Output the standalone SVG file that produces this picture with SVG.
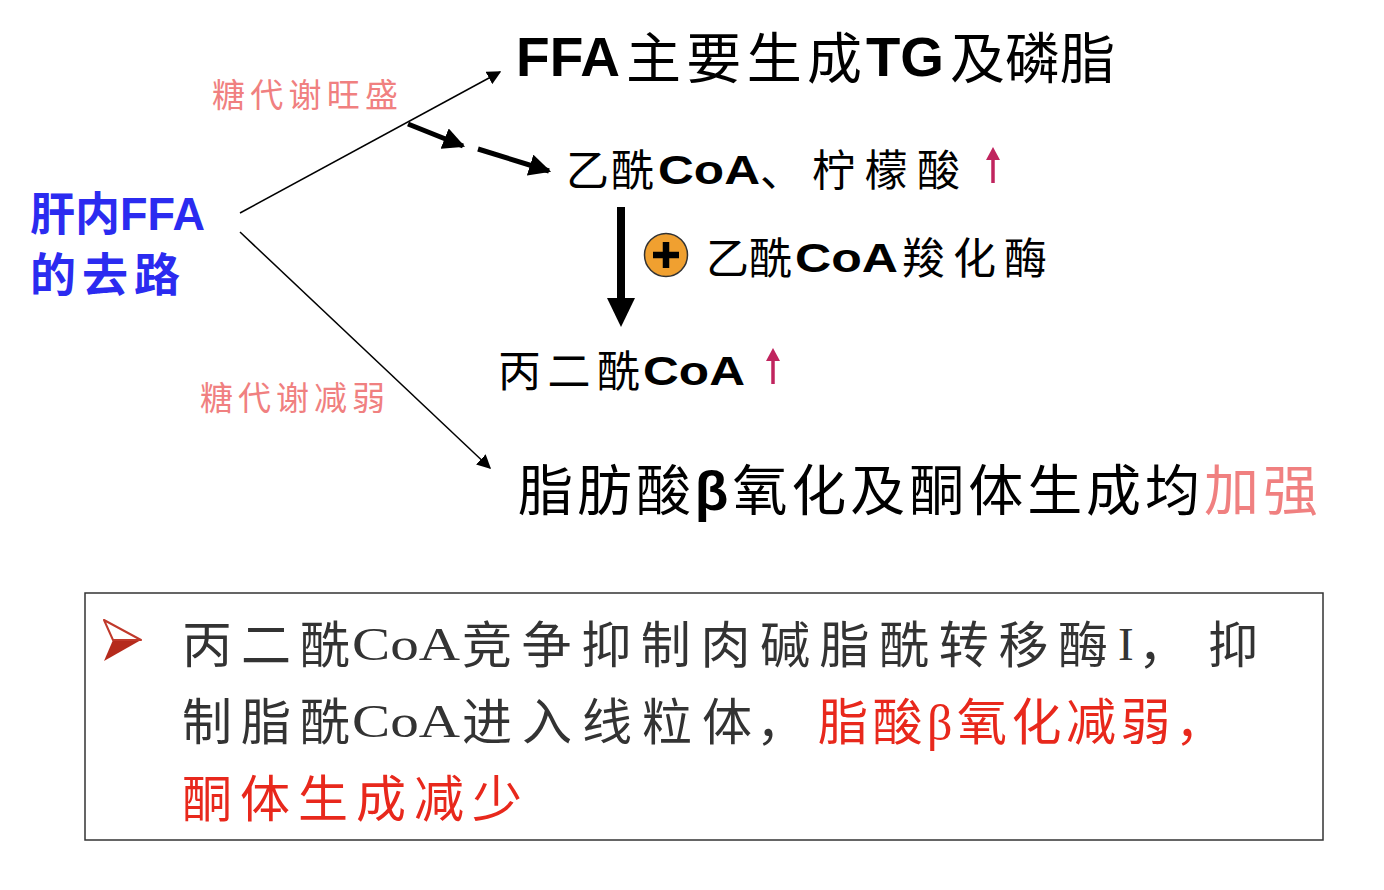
<svg xmlns="http://www.w3.org/2000/svg" width="1384" height="890" viewBox="0 0 1384 890">
  <defs>
    <marker id="thin" viewBox="0 0 10 10" refX="9" refY="5" markerWidth="14" markerHeight="14" markerUnits="userSpaceOnUse" orient="auto">
      <path d="M0,0 L10,5 L0,10 z" fill="#000"/>
    </marker>
    <marker id="bold" viewBox="0 0 10 10" refX="9" refY="5" markerWidth="4.4" markerHeight="4.4" orient="auto">
      <path d="M0,0 L10,5 L0,10 z" fill="#000"/>
    </marker>
    <style>
      .cn { font-family: "Liberation Sans", "Noto Sans CJK SC", sans-serif; }
      .b { font-weight: bold; }
      .se { font-family: "Liberation Serif", "Noto Sans CJK SC", serif; }
      .pink { fill: #f08080; }
      .up { stroke: #c0245e; stroke-width: 3.5; fill: none; }
      .upHead { fill: #c0245e; }
      .note { fill: #333; }
      .hot { fill: #e8281c; }
    </style>
  </defs>
  <rect width="1384" height="890" fill="#fff"/>

  <!-- connectors -->
  <g id="connectors" fill="none" stroke="#000">
    <line x1="240" y1="213" x2="500" y2="72" stroke-width="1.5" marker-end="url(#thin)"/>
    <line x1="240" y1="232" x2="490" y2="468" stroke-width="1.5" marker-end="url(#thin)"/>
    <line x1="408" y1="124" x2="463" y2="146" stroke-width="5" marker-end="url(#bold)"/>
    <line x1="478" y1="149" x2="549" y2="171" stroke-width="5" marker-end="url(#bold)"/>
    <line x1="621" y1="207" x2="621" y2="300" stroke-width="8"/>
    <path d="M607,298 L635,298 L621,327 z" fill="#000" stroke="none"/>
  </g>

  <g id="source">
    <text class="cn b" x="30" y="230" font-size="46" fill="#2b2bf0" textLength="175" lengthAdjust="spacingAndGlyphs">肝内FFA</text>
    <text class="cn b" x="30" y="291" font-size="46" fill="#2b2bf0" textLength="150" lengthAdjust="spacing">的去路</text>
  </g>

  <g id="label-high">
    <text class="cn pink" x="212" y="107" font-size="33" textLength="186" lengthAdjust="spacing">糖代谢旺盛</text>
  </g>
  <g id="label-low">
    <text class="cn pink" x="200" y="410" font-size="33" textLength="185" lengthAdjust="spacing">糖代谢减弱</text>
  </g>

  <g id="node-tg" fill="#000">
    <text class="cn b" x="516" y="76" font-size="55" textLength="104" lengthAdjust="spacingAndGlyphs">FFA</text>
    <text class="cn" x="626" y="78" font-size="55" textLength="236" lengthAdjust="spacing">主要生成</text>
    <text class="cn b" x="866" y="76" font-size="55" textLength="78" lengthAdjust="spacingAndGlyphs">TG</text>
    <text class="cn" x="950" y="78" font-size="55" textLength="165" lengthAdjust="spacing">及磷脂</text>
  </g>

  <g id="node-acetyl" fill="#000">
    <text class="cn" x="566" y="186" font-size="43" textLength="88" lengthAdjust="spacing">乙酰</text>
    <text class="cn b" x="658" y="184" font-size="40" textLength="102" lengthAdjust="spacingAndGlyphs">CoA</text>
    <text class="cn" x="760" y="186" font-size="43">、</text>
    <text class="cn" x="812" y="186" font-size="43" textLength="148" lengthAdjust="spacing">柠檬酸</text>
    <line class="up" x1="993" y1="183" x2="993" y2="157"/>
    <path class="upHead" d="M986,160 L993,147 L1000,160 z"/>
  </g>

  <g id="node-enzyme" fill="#000">
    <circle cx="666" cy="255" r="21.5" fill="#f0a030" stroke="#333" stroke-width="1.5"/>
    <path d="M653,255 H679 M666,242 V268" stroke="#000" stroke-width="6.5"/>
    <text class="cn" x="706" y="274" font-size="43" textLength="86" lengthAdjust="spacing">乙酰</text>
    <text class="cn b" x="795" y="272" font-size="40" textLength="103" lengthAdjust="spacingAndGlyphs">CoA</text>
    <text class="cn" x="902" y="274" font-size="43" textLength="145" lengthAdjust="spacing">羧化酶</text>
  </g>

  <g id="node-malonyl" fill="#000">
    <text class="cn" x="498" y="387" font-size="43" textLength="142" lengthAdjust="spacing">丙二酰</text>
    <text class="cn b" x="643" y="385" font-size="40" textLength="102" lengthAdjust="spacingAndGlyphs">CoA</text>
    <line class="up" x1="773" y1="384" x2="773" y2="358"/>
    <path class="upHead" d="M766,361 L773,348 L780,361 z"/>
  </g>

  <g id="node-oxidation" fill="#000">
    <text class="cn" x="518" y="510" font-size="55" textLength="800" lengthAdjust="spacing">脂肪酸<tspan class="b">β</tspan>氧化及酮体生成均<tspan class="pink">加强</tspan></text>
  </g>

  <g id="note">
    <rect x="85" y="593" width="1238" height="247" fill="#fff" stroke="#333" stroke-width="1.5"/>
    <!-- bullet -->
    <path d="M104,661 L141,640 L113,640 z" fill="#b52a1c"/>
    <path d="M104,620 L141,640 L113,640 z" fill="#fff" stroke="#c0392b" stroke-width="2" stroke-linejoin="round"/>
    <!-- line 1 -->
    <text class="se note" x="182" y="663" font-size="50" textLength="168" lengthAdjust="spacing">丙二酰</text>
    <text class="se note" x="352" y="660" font-size="47" textLength="108" lengthAdjust="spacingAndGlyphs">CoA</text>
    <text class="se note" x="462" y="663" font-size="50" textLength="646" lengthAdjust="spacing">竞争抑制肉碱脂酰转移酶</text>
    <text class="se note" x="1118" y="660" font-size="47">I</text>
    <text class="se note" x="1138" y="663" font-size="50">，</text>
    <text class="se note" x="1208" y="663" font-size="50">抑</text>
    <!-- line 2 -->
    <text class="se note" x="182" y="740" font-size="50" textLength="168" lengthAdjust="spacing">制脂酰</text>
    <text class="se note" x="352" y="737" font-size="47" textLength="108" lengthAdjust="spacingAndGlyphs">CoA</text>
    <text class="se note" x="462" y="740" font-size="50" textLength="290" lengthAdjust="spacing">进入线粒体</text>
    <text class="se note" x="756" y="740" font-size="50">，</text>
    <text class="se hot" x="818" y="740" font-size="50" textLength="407" lengthAdjust="spacing">脂酸β氧化减弱，</text>
    <!-- line 3 -->
    <text class="se hot" x="182" y="817" font-size="50" textLength="340" lengthAdjust="spacing">酮体生成减少</text>
  </g>
</svg>
